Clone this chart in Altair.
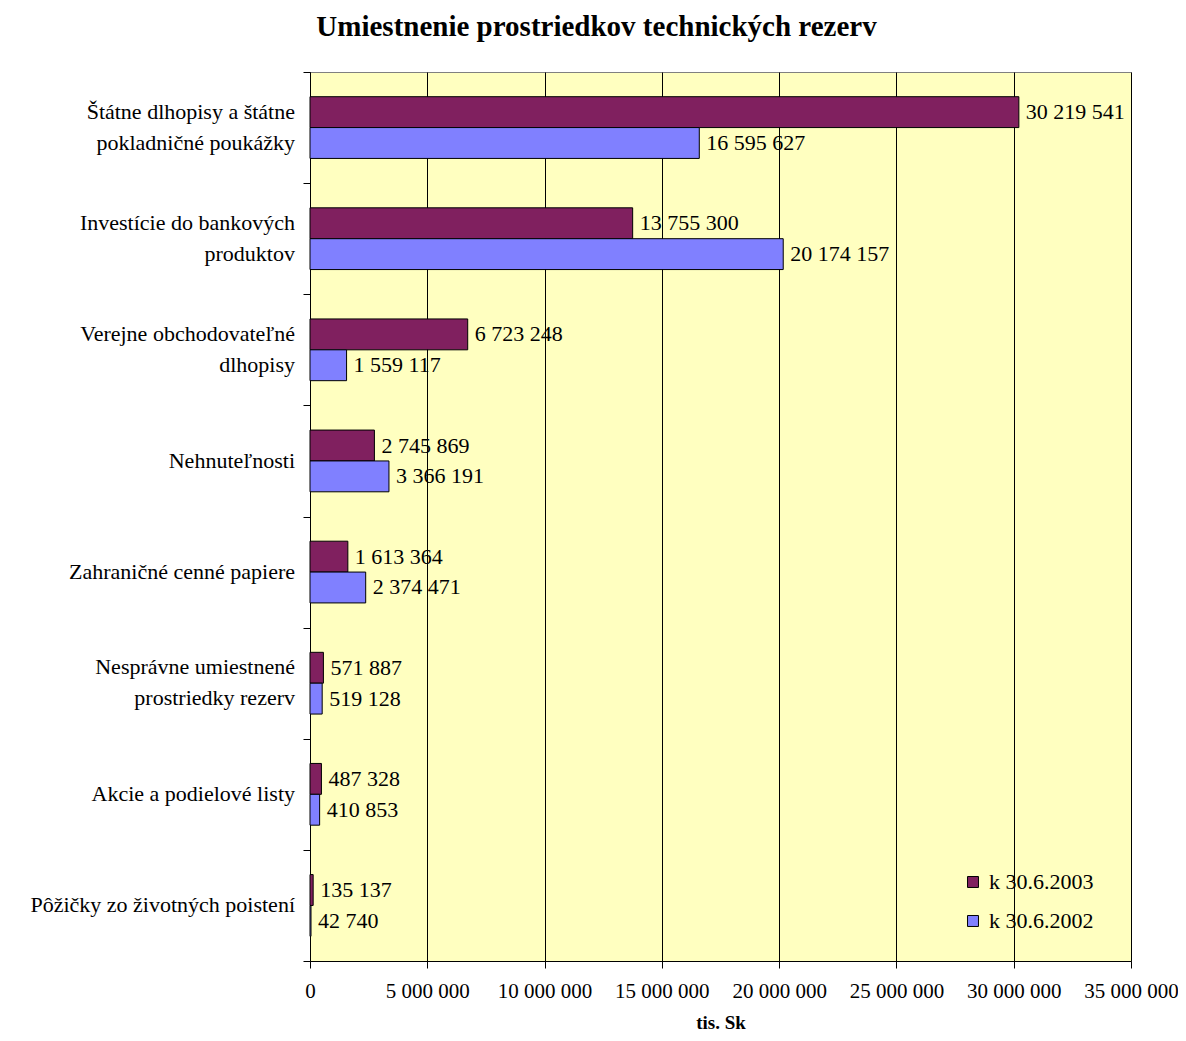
import altair as alt
import pandas as pd

categories = [
    "Štátne dlhopisy a štátne|pokladničné poukážky",
    "Investície do bankových|produktov",
    "Verejne obchodovateľné|dlhopisy",
    "Nehnuteľnosti",
    "Zahraničné cenné papiere",
    "Nesprávne umiestnené|prostriedky rezerv",
    "Akcie a podielové listy",
    "Pôžičky zo životných poistení",
]
series = ["k 30.6.2003", "k 30.6.2002"]
values_2003 = [30219541, 13755300, 6723248, 2745869, 1613364, 571887, 487328, 135137]
values_2002 = [16595627, 20174157, 1559117, 3366191, 2374471, 519128, 410853, 42740]
x_ticks = [0, 5000000, 10000000, 15000000, 20000000, 25000000, 30000000, 35000000]

rows = []
for c, v3, v2 in zip(categories, values_2003, values_2002):
    rows.append({"cat": c, "series": series[0], "value": v3})
    rows.append({"cat": c, "series": series[1], "value": v2})
df = pd.DataFrame(rows)
df["label"] = df["value"].map(lambda v: f"{v:,}".replace(",", " "))

cat_df = pd.DataFrame({"cat": categories})
cat_df["multi"] = cat_df["cat"].str.contains("|", regex=False)

FONT = "Liberation Serif"
FS = 22

y_scale = alt.Scale(paddingInner=0, paddingOuter=0)
y_enc = alt.Y(
    "cat:N",
    sort=categories,
    scale=y_scale,
    axis=alt.Axis(
        title=None,
        labels=False,
        tickBand="extent",
        tickSize=7,
        tickColor="black",
        domainColor="black",
    ),
)
yoff = alt.YOffset("series:N", sort=series, scale=alt.Scale(paddingInner=0, paddingOuter=0.8))

base = alt.Chart(df)

bars = base.mark_bar(stroke="black", strokeWidth=1).encode(
    y=y_enc,
    yOffset=yoff,
    x=alt.X(
        "value:Q",
        scale=alt.Scale(domain=[0, 35000000], nice=False),
        axis=alt.Axis(
            values=x_ticks,
            title="tis. Sk",
            titleFont=FONT,
            titleFontSize=19,
            titleFontWeight="bold",
            titleColor="black",
            titlePadding=12,
            labelExpr="replace(format(datum.value, ','), /,/g, ' ')",
            labelFont=FONT,
            labelFontSize=21,
            labelColor="black",
            labelPadding=12,
            labelOverlap=False,
            labelFlush=False,
            tickSize=7,
            tickColor="black",
            domainColor="black",
            grid=True,
            gridColor="black",
            gridOpacity=1,
            gridWidth=1,
        ),
    ),
    color=alt.Color(
        "series:N",
        sort=series,
        scale=alt.Scale(domain=series, range=["#80205F", "#8080FF"]),
        legend=alt.Legend(
            title=None,
            orient="none",
            legendX=652,
            legendY=799,
            symbolType="square",
            symbolSize=120,
            symbolStrokeColor="black",
            symbolStrokeWidth=1,
            symbolOpacity=1,
            labelFont=FONT,
            labelFontSize=FS,
            labelColor="black",
            rowPadding=17,
            labelOffset=5,
        ),
    ),
)

texts = base.mark_text(align="left", baseline="middle", dx=7, font=FONT, fontSize=FS, color="black").encode(
    y=alt.Y("cat:N", sort=categories),
    yOffset=yoff,
    x=alt.X("value:Q"),
    text="label:N",
)

cat_base = alt.Chart(cat_df)
cat_multi = cat_base.transform_filter("datum.multi").mark_text(
    align="right", baseline="line-bottom", lineBreak="|", lineHeight=31,
    font=FONT, fontSize=FS, color="black",
).encode(
    y=alt.Y("cat:N", sort=categories),
    x=alt.value(-15),
    text="cat:N",
)
cat_single = cat_base.transform_filter("!datum.multi").mark_text(
    align="right", baseline="middle",
    font=FONT, fontSize=FS, color="black",
).encode(
    y=alt.Y("cat:N", sort=categories),
    x=alt.value(-15),
    text="cat:N",
)

chart = (
    alt.layer(bars, texts, cat_multi, cat_single)
    .properties(
        width=821,
        height=889,
        padding={"left": 302, "top": 64, "right": 47, "bottom": 70},
        autosize=alt.AutoSizeParams(type="none"),
        title=alt.TitleParams(
            "Umiestnenie prostriedkov technických rezerv",
            font=FONT,
            fontSize=29,
            fontWeight="bold",
            color="black",
            anchor="middle",
            dx=-124,
            offset=30,
        ),
        background="white",
    )
    .configure_view(fill="#FFFFC0", stroke="#808080", strokeWidth=1)
)

chart.save("out.html", embed_options={"renderer": "svg", "actions": False})
